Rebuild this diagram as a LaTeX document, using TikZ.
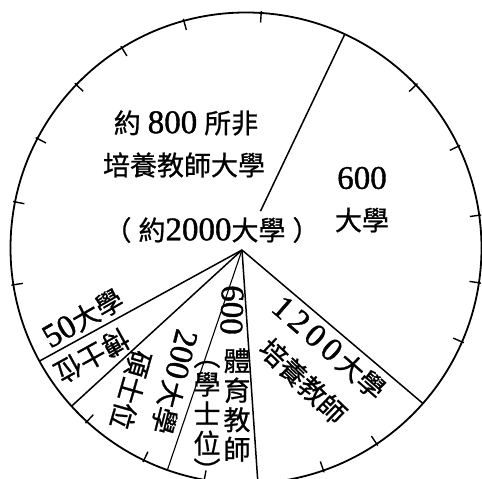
\documentclass[tikz,border=0pt]{standalone}
\usepackage{fontspec}
\setmainfont{Liberation Serif}[FakeBold=1.2]
\newfontfamily\cjk{Noto Sans CJK TC}[FakeBold=0.8]
\usetikzlibrary{calc}
\newcommand\numf[1]{{\rmfamily\fontsize{33}{33}\selectfont #1}}
\tikzset{
  rim/.style={line width=1.8pt},
  divider/.style={line width=1.5pt},
  thin divider/.style={line width=1.1pt},
  tickmark/.style={line width=1.4pt},
  txt/.style={font=\cjk\fontsize{27}{29.5}\selectfont, inner sep=0pt, align=center},
}
\begin{document}
\begin{tikzpicture}[x=1pt,y=-1pt]
\useasboundingbox (0,0) rectangle (482,479);
\coordinate (C) at (246,248);
\coordinate (H) at (242,250);
% rim
\draw[rim] (C) circle[radius=235.5pt];
% ticks
\foreach \a in {86.3,105.3,121.8,136.1,152.3,168.7,189,227.5,244.3,259.8,289.2,303.7,336.5,351.5,8,25.6,43.8}
  \draw[tickmark] ($(C)+(\a:226pt)$) -- ($(C)+(\a:237.5pt)$);
% rim points of the dividers
\coordinate (e800) at ($(C)+(65.2:235.5pt)$);
\coordinate (e1200) at ($(C)+(-41.3:235.5pt)$);
\coordinate (ebot) at ($(C)+(-87.1:235.5pt)$);
\coordinate (e600) at ($(C)+(250.5:235.5pt)$);
\coordinate (e200) at ($(C)+(222.2:235.5pt)$);
\coordinate (e50) at ($(C)+(208.7:235.5pt)$);
\coordinate (s800) at ($(e800)!0.82!(H)$);
% dividers
\draw[divider] (e800) -- (s800);
\draw[divider] (H) -- (e1200);
\draw[divider] (H) -- (ebot);
\draw[thin divider] (H) -- (e600);
\draw[divider] (H) -- (e200);
\draw[divider] (H) -- (e50);
% labels
\node[txt] (n800) at (186,123) {約\hspace{7pt}\numf{800}\hspace{7pt}所非};
\node[txt] (npei) at (184,165) {培養教師大學};
\node[txt] (ntotal) at (212,230) {（\hspace{7pt}約\numf{2000}大學\hspace{7pt}）};
\node[txt] (n600r) at (362,178) {\numf{600}};
\node[txt] (ndaxue) at (362,220) {大學};
\node[txt, rotate=-41] (n1200) at (329,348) {\numf{1\hspace{5pt}2\hspace{5pt}0\hspace{5pt}0}\hspace{4pt}大學};
\node[txt, rotate=-44] (npei2) at (303,381) {培養教師};
\node[txt, rotate=30] (n50) at (83,318) {\numf{50}大學};
\node[txt, rotate=209] (nbo) at (92,356) {博士位};
\node[txt, rotate=-104] (n200) at (174,382) {\numf{200}\hspace{3pt}大學};
\node[txt, rotate=-106] (nshuo) at (131,390) {碩士位};
\node[txt, rotate=-92] (n600v) at (232,310) {\numf{600}};
\node[txt] (ntiyu) at (237,405) {體\\育\\教\\師};
\node[txt] (nxue) at (207,421) {︵\\[-1pt]學\\士\\位\\[-2pt]︶};
\end{tikzpicture}
\end{document}
